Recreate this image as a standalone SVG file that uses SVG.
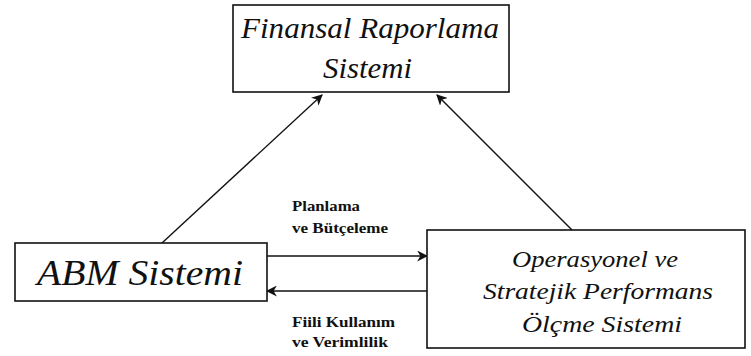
<svg xmlns="http://www.w3.org/2000/svg" width="751" height="356" viewBox="0 0 751 356">
  <defs>
    <marker id="arrow" viewBox="0 0 10 10" refX="9" refY="5" markerWidth="11" markerHeight="11" markerUnits="userSpaceOnUse" orient="auto">
      <path d="M0,0 L10,5 L0,10 L3,5 Z" fill="#111"/>
    </marker>
  </defs>
  <style>
    .box { fill: #fff; stroke: #111; stroke-width: 1.6; }
    .title { font-family: "Liberation Serif", "Times New Roman", serif; font-style: italic; fill: #111; }
    .label { font-family: "Liberation Serif", "Times New Roman", serif; font-weight: bold; font-size: 14px; fill: #111; }
    .edge { stroke: #111; stroke-width: 1.4; fill: none; marker-end: url(#arrow); }
  </style>
  <rect width="751" height="356" fill="#fff"/>

  <g id="connectors">
    <line class="edge" x1="162" y1="243" x2="322" y2="95"/>
    <line class="edge" x1="572" y1="230" x2="437" y2="95"/>
    <line class="edge" x1="267" y1="256" x2="427" y2="256"/>
    <line class="edge" x1="427" y1="291" x2="267" y2="291"/>
    <text class="label" x="292" y="211" textLength="68" lengthAdjust="spacingAndGlyphs">Planlama</text>
    <text class="label" x="292" y="233" textLength="96" lengthAdjust="spacingAndGlyphs">ve Bütçeleme</text>
    <text class="label" x="292" y="327" textLength="103" lengthAdjust="spacingAndGlyphs">Fiili Kullanım</text>
    <text class="label" x="292" y="347" textLength="96" lengthAdjust="spacingAndGlyphs">ve Verimlilik</text>
  </g>

  <g id="finansal-raporlama">
    <rect class="box" x="233" y="5" width="276" height="87"/>
    <text class="title" x="241" y="38" font-size="29" textLength="258" lengthAdjust="spacingAndGlyphs">Finansal Raporlama</text>
    <text class="title" x="323" y="78" font-size="29" textLength="89" lengthAdjust="spacingAndGlyphs">Sistemi</text>
  </g>

  <g id="abm-sistemi">
    <rect class="box" x="15" y="243" width="252" height="58"/>
    <text class="title" x="37" y="285" font-size="35" textLength="206" lengthAdjust="spacingAndGlyphs">ABM Sistemi</text>
  </g>

  <g id="performans-olcme">
    <rect class="box" x="427" y="230" width="318" height="118"/>
    <text class="title" x="512" y="267" font-size="24" textLength="166" lengthAdjust="spacingAndGlyphs">Operasyonel ve</text>
    <text class="title" x="483" y="299" font-size="24" textLength="230" lengthAdjust="spacingAndGlyphs">Stratejik Performans</text>
    <text class="title" x="522" y="332" font-size="24" textLength="160" lengthAdjust="spacingAndGlyphs">Ölçme Sistemi</text>
  </g>
</svg>
